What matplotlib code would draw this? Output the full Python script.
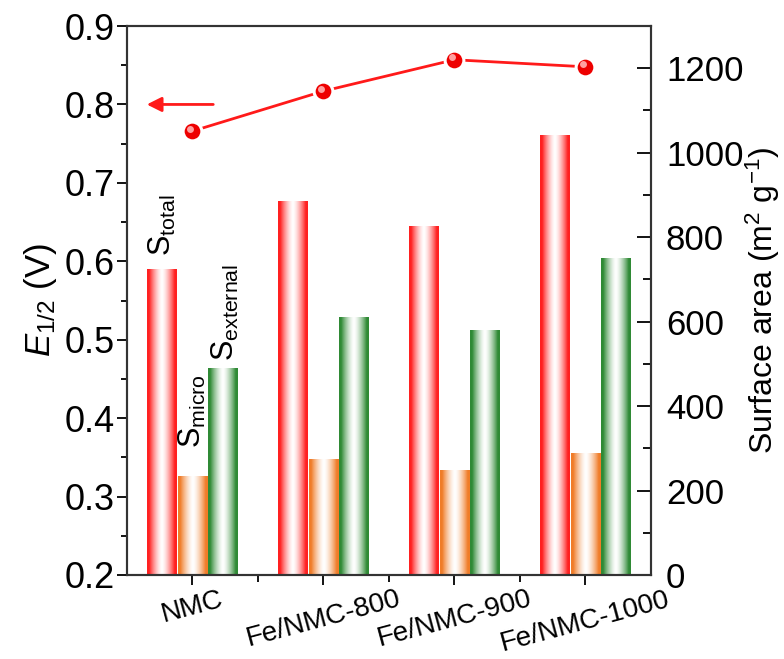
import numpy as np
import matplotlib
matplotlib.use('Agg')
import matplotlib.pyplot as plt
from matplotlib.colors import to_rgb
from matplotlib.ticker import MultipleLocator, FixedLocator
import matplotlib.transforms as mtransforms

plt.rcParams['font.family'] = ['Liberation Sans', 'DejaVu Sans']
plt.rcParams['mathtext.fontset'] = 'custom'
plt.rcParams['mathtext.rm'] = 'Liberation Sans'
plt.rcParams['mathtext.it'] = 'Liberation Sans:italic'

samples = ['NMC', 'Fe/NMC-800', 'Fe/NMC-900', 'Fe/NMC-1000']
e_half = [0.766, 0.817, 0.857, 0.848]
s_total = [724, 886, 826, 1041]
s_micro = [234, 274, 249, 288]
s_external = [491, 612, 579, 750]

red = '#ff2020'
orange = '#f07c28'
green = '#2f8a35'


def gradient_bars(ax, bars, color):
    # white in the middle, full colour at both edges
    t = np.linspace(0, 1, 64)
    f = np.clip(np.abs(2 * t - 1) * 1.15, 0, 1) ** 1.5
    c = np.array(to_rgb(color))
    img = 1 - f[None, :, None] * (1 - c[None, None, :])
    for b in bars:
        x0, w, h = b.get_x(), b.get_width(), b.get_height()
        im = ax.imshow(img, extent=(x0, x0 + w, 0, h), aspect='auto',
                       interpolation='bilinear', zorder=2)
        im.set_clip_path(b)


fig = plt.figure(figsize=(7.84, 6.59), dpi=100)
ax1 = fig.add_axes([0.162, 0.1275, 0.668, 0.833])
ax2 = ax1.twinx()

x = np.arange(len(samples))
w = 0.225
step = 0.232
b1 = ax2.bar(x - step, s_total, w, color='none', linewidth=0)
b2 = ax2.bar(x, s_micro, w, color='none', linewidth=0)
b3 = ax2.bar(x + step, s_external, w, color='none', linewidth=0)
gradient_bars(ax2, b1, red)
gradient_bars(ax2, b2, orange)
gradient_bars(ax2, b3, green)

# E1/2 line with shaded ball markers
ax1.plot(x, e_half, '-', color='#ff1a1a', lw=2, marker='o', ms=13.5,
         mfc='#ee0000', mec='white', mew=2.2, zorder=5)
hl = mtransforms.offset_copy(ax1.transData, fig=fig, x=-2, y=2.5, units='dots')
ax1.plot(x, e_half, 'o', ms=5, mfc='#ffa0a0', mec='none', transform=hl, zorder=6)
ax1.annotate('', xy=(-0.37, 0.80), xytext=(0.18, 0.80),
             arrowprops=dict(arrowstyle='-|>', color='#ff1a1a', lw=2,
                             mutation_scale=22))

ax1.set_zorder(ax2.get_zorder() + 1)
ax1.patch.set_visible(False)

ax1.set_xlim(-0.5, 3.5)
ax1.set_ylim(0.2, 0.9)
ax2.set_ylim(0, 1300)

ax1.yaxis.set_major_locator(MultipleLocator(0.1))
ax1.yaxis.set_minor_locator(MultipleLocator(0.05))
ax2.yaxis.set_major_locator(MultipleLocator(200))
ax2.yaxis.set_minor_locator(MultipleLocator(100))
ax1.xaxis.set_major_locator(FixedLocator(x))
ax1.xaxis.set_minor_locator(FixedLocator([0.5, 1.5, 2.5]))
ax1.set_xticklabels(samples, rotation=15, ha='center', fontsize=20)
for lab in ax1.get_xticklabels():
    lab.set_transform(lab.get_transform() +
                      mtransforms.ScaledTranslation(-15 / 100, 0, fig.dpi_scale_trans))

ax1.tick_params(axis='y', which='major', direction='out', length=7, width=1.3,
                labelsize=26, pad=2)
ax1.tick_params(axis='y', which='minor', direction='out', length=4, width=1.3)
ax1.tick_params(axis='x', which='major', direction='out', length=7, width=1.3, pad=1)
ax1.tick_params(axis='x', which='minor', direction='out', length=5, width=1.3)
ax2.tick_params(axis='y', which='major', direction='in', length=10, width=1.3,
                labelsize=25, pad=11)
ax2.tick_params(axis='y', which='minor', direction='in', length=6, width=1.3)

for ax in (ax1, ax2):
    for s in ax.spines.values():
        s.set_linewidth(1.5)
        s.set_color('#333333')

ax1.set_ylabel(r'$E_{\mathregular{1/2}}$ (V)', fontsize=25, labelpad=4)
ax2.set_ylabel(r'Surface area (m$^{\mathregular{2}}$ g$^{\mathregular{-1}}$)',
               fontsize=23, labelpad=0)

# bar labels
ax2.text(x[0] - step, 755, r'S$_{\mathregular{total}}$', rotation=90,
         ha='center', va='bottom', fontsize=22)
ax2.text(x[0], 300, r'S$_{\mathregular{micro}}$', rotation=90,
         ha='center', va='bottom', fontsize=22)
ax2.text(x[0] + step + 0.02, 507, r'S$_{\mathregular{external}}$', rotation=90,
         ha='center', va='bottom', fontsize=22)

fig.savefig('out.png', dpi=100)
